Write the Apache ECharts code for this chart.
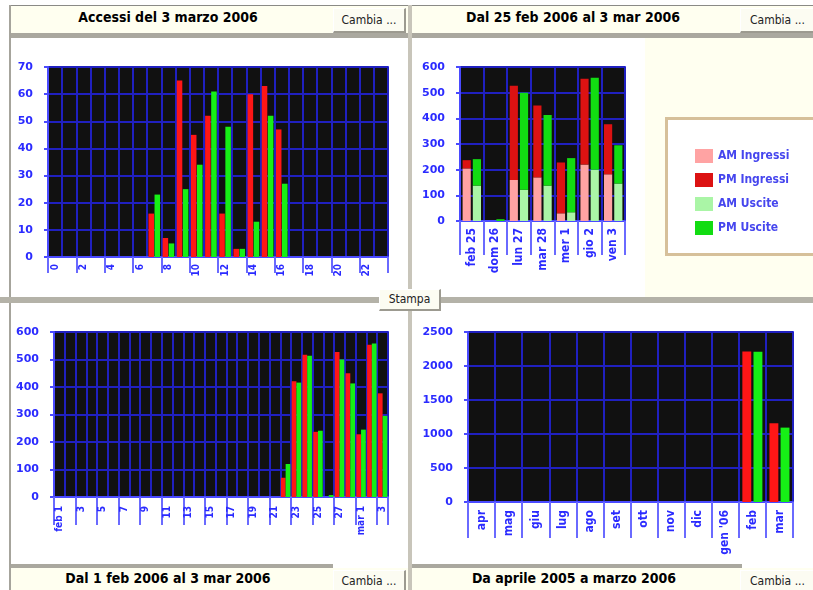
<!DOCTYPE html>
<html><head><meta charset="utf-8">
<script src="https://cdn.jsdelivr.net/npm/echarts@6/dist/echarts.min.js"></script>
<style>
html,body{margin:0;padding:0;width:813px;height:590px;overflow:hidden;background:#fff;font-family:'DejaVu Sans Condensed','DejaVu Sans',sans-serif;}
.a{position:absolute;}
.hdr{position:absolute;background:#fffff0;}
.t{position:absolute;font-weight:bold;font-size:14px;color:#000;text-align:center;white-space:nowrap;}
.btn{position:absolute;background:#fcfcf2;border-top:1px solid #ffffff;border-left:1px solid #ffffff;border-right:2px solid #9c9a90;border-bottom:2px solid #9c9a90;font-size:12px;color:#222;text-align:center;box-sizing:border-box;white-space:nowrap;}
#c{position:absolute;left:0;top:0;width:813px;height:590px;z-index:5;}
</style></head>
<body>
<!-- chrome -->
<div class="a" style="left:9px;top:5px;width:804px;height:1px;background:#8a8a86"></div>
<div class="a" style="left:9px;top:5px;width:2px;height:585px;background:#a6a49c"></div>
<div class="hdr" style="left:11px;top:6px;width:397px;height:27px"></div>
<div class="hdr" style="left:412px;top:6px;width:401px;height:27px"></div>
<div class="t" style="left:18px;top:9px;width:300px">Accessi del 3 marzo 2006</div>
<div class="t" style="left:423px;top:9px;width:300px">Dal 25 feb 2006 al 3 mar 2006</div>
<div class="btn" style="left:333px;top:8px;width:73px;height:25px;line-height:22px">Cambia ...</div>
<div class="btn" style="left:740px;top:8px;width:76px;height:25px;line-height:22px">Cambia ...</div>
<div class="a" style="left:11px;top:33px;width:802px;height:5px;background:#aaa89f"></div>
<div class="a" style="left:645px;top:38px;width:168px;height:259px;background:#fffff0"></div>
<div class="a" style="left:665px;top:117px;width:160px;height:139px;box-sizing:border-box;border:3px solid #d6c09a;background:#fff"></div>
<div class="a" style="left:0px;top:297px;width:813px;height:6px;background:#b4b2a8"></div>
<div class="a" style="left:408px;top:5px;width:4px;height:585px;background:#c8c5ba"></div>
<div class="btn" style="left:379px;top:289px;width:62px;height:22px;line-height:19px;font-size:12px;z-index:6">Stampa</div>
<div class="a" style="left:11px;top:564px;width:322px;height:4px;background:#aaa89f"></div>
<div class="a" style="left:412px;top:564px;width:330px;height:4px;background:#aaa89f"></div>
<div class="hdr" style="left:11px;top:568px;width:397px;height:22px"></div>
<div class="hdr" style="left:412px;top:568px;width:401px;height:22px"></div>
<div class="t" style="left:18px;top:570px;width:300px">Dal 1 feb 2006 al 3 mar 2006</div>
<div class="t" style="left:424px;top:570px;width:300px">Da aprile 2005 a marzo 2006</div>
<div class="btn" style="left:333px;top:570px;width:73px;height:22px;line-height:20px">Cambia ...</div>
<div class="btn" style="left:740px;top:570px;width:76px;height:22px;line-height:20px">Cambia ...</div>
<div id="c"></div>
<script>
// ---- data ----
const hours = ['0','1','2','3','4','5','6','7','8','9','10','11','12','13','14','15','16','17','18','19','20','21','22','23'];
const hourIngressi = [0,0,0,0,0,0,0,16,7,65,45,52,16,3,60,63,47,0,0,0,0,0,0,0];
const hourUscite   = [0,0,0,0,0,0,0,23,5,25,34,61,48,3,13,52,27,0,0,0,0,0,0,0];

const weekDays = ['feb 25','dom 26','lun 27','mar 28','mer 1','gio 2','ven 3'];
const amIngressi = [205,0,160,170,30,220,182];
const pmIngressi = [32,0,367,280,198,334,195];
const amUscite   = [138,0,122,138,34,200,146];
const pmUscite   = [103,7,378,275,211,358,149];

const days = ['feb 1','2','3','4','5','6','7','8','9','10','11','12','13','14','15','16','17','18','19','20','21','22','23','24','25','26','27','28','mar 1','2','3'];
const dayIngressi = [0,0,0,0,0,0,0,0,0,0,0,0,0,0,0,0,0,0,0,0,0,70,421,517,237,0,527,450,228,554,377];
const dayUscite   = [0,0,0,0,0,0,0,0,0,0,0,0,0,0,0,0,0,0,0,0,0,120,416,514,241,7,500,413,245,558,295];

const months = ['apr','mag','giu','lug','ago','set','ott','nov','dic',"gen '06",'feb','mar'];
const monthIngressi = [0,0,0,0,0,0,0,0,0,0,2215,1158];
const monthUscite   = [0,0,0,0,0,0,0,0,0,0,2210,1094];

const legendNames = ['AM Ingressi','PM Ingressi','AM Uscite','PM Uscite'];

// ---- styles ----
const blue = '#2b2bff';
const lineBlue = '#4a4aff';
const gridBlue = '#2020c0';
const red = '#ff1616', green = '#16f016';
const pink = '#ffa3a3', darkRed = '#dc1212', lightGreen = '#aaf5a6', midGreen = '#12dc12';
const lblFont = 'DejaVu Sans';

function yAx(gi, max, interval){
  return {type:'value', gridIndex:gi, min:0, max:max, interval:interval,
    axisLine:{show:true, lineStyle:{color:lineBlue, width:2}},
    axisTick:{show:true, length:4, lineStyle:{color:lineBlue, width:2}},
    axisLabel:{color:blue, fontSize:11, fontWeight:'bold', fontFamily:lblFont, margin:15, formatter:function(v){return String(v);}},
    splitLine:{show:true, lineStyle:{color:gridBlue, width:2}}};
}
function xAx(gi, data, labInt, tickInt, tickLen, fs, margin){
  return {type:'category', gridIndex:gi, data:data,
    axisLine:{show:true, lineStyle:{color:lineBlue, width:2}},
    axisTick:{show:true, interval:tickInt, length:tickLen, lineStyle:{color:'#6a6aff', width:2}},
    axisLabel:{interval:labInt, rotate:90, color:blue, fontSize:fs, fontWeight:'bold', fontFamily:'DejaVu Sans Condensed', margin:margin},
    splitLine:{show:true, interval:0, lineStyle:{color:gridBlue, width:2}}};
}
function g(left, top, width, height){
  return {left:left, top:top, width:width, height:height, show:true, backgroundColor:'#111111', borderColor:lineBlue, borderWidth:2};
}

const option = {
  animation:false,
  backgroundColor:'transparent',
  grid:[g(48,67,340,190), g(460,67,165,154), g(54,332,334,165), g(468,332,325,170)],
  xAxis:[
    xAx(0, hours, 1, 1, 16, 10, 7),
    xAx(1, weekDays, 0, 0, 34, 12, 7),
    xAx(2, days, 1, 1, 28, 10, 9),
    xAx(3, months, 0, 0, 36, 12, 8)
  ],
  yAxis:[yAx(0,70,10), yAx(1,600,100), yAx(2,600,100), yAx(3,2500,500)],
  legend:{data:legendNames, orient:'vertical', left:690, top:144, itemWidth:18, itemHeight:14, itemGap:10, icon:'rect', selectedMode:false,
    textStyle:{color:'#4646ee', fontSize:12, fontWeight:'bold', fontFamily:'DejaVu Sans Condensed'}},
  series:[
    {type:'bar', name:'Ingressi', xAxisIndex:0, yAxisIndex:0, data:hourIngressi, itemStyle:{color:red}, barGap:'10%', barCategoryGap:'18%'},
    {type:'bar', name:'Uscite', xAxisIndex:0, yAxisIndex:0, data:hourUscite, itemStyle:{color:green}},
    {type:'bar', name:'AM Ingressi', stack:'ing', xAxisIndex:1, yAxisIndex:1, data:amIngressi, itemStyle:{color:pink}, barGap:'25%', barCategoryGap:'22%'},
    {type:'bar', name:'PM Ingressi', stack:'ing', xAxisIndex:1, yAxisIndex:1, data:pmIngressi, itemStyle:{color:darkRed}},
    {type:'bar', name:'AM Uscite', stack:'usc', xAxisIndex:1, yAxisIndex:1, data:amUscite, itemStyle:{color:lightGreen}},
    {type:'bar', name:'PM Uscite', stack:'usc', xAxisIndex:1, yAxisIndex:1, data:pmUscite, itemStyle:{color:midGreen}},
    {type:'bar', name:'Ingressi', xAxisIndex:2, yAxisIndex:2, data:dayIngressi, itemStyle:{color:red}, barGap:'0%', barCategoryGap:'12%'},
    {type:'bar', name:'Uscite', xAxisIndex:2, yAxisIndex:2, data:dayUscite, itemStyle:{color:green}},
    {type:'bar', name:'Ingressi', xAxisIndex:3, yAxisIndex:3, data:monthIngressi, itemStyle:{color:red}, barGap:'25%', barCategoryGap:'26%'},
    {type:'bar', name:'Uscite', xAxisIndex:3, yAxisIndex:3, data:monthUscite, itemStyle:{color:green}}
  ]
};
const chart = echarts.init(document.getElementById('c'));
chart.setOption(option);
</script>
</body></html>
